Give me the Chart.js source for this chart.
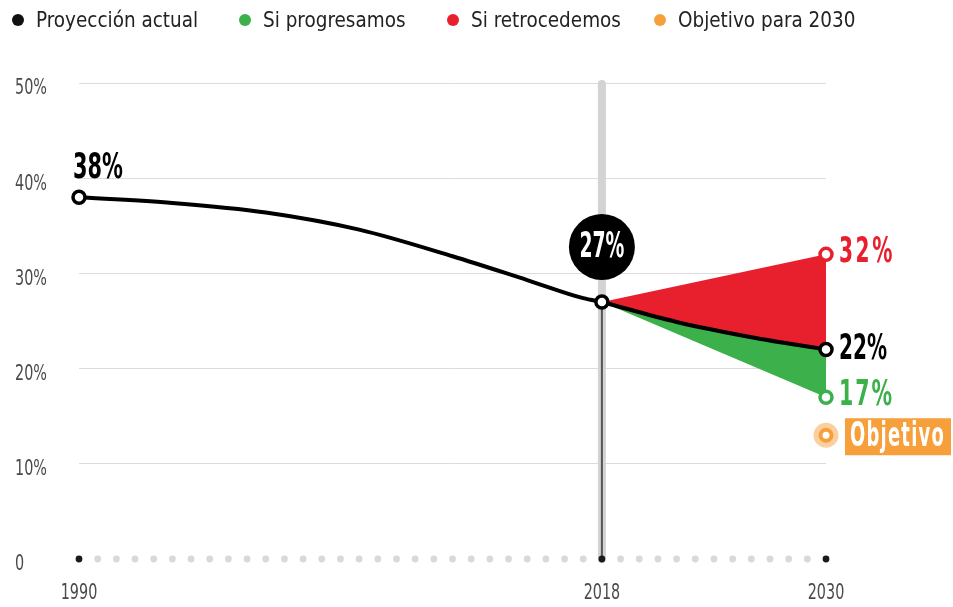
<!DOCTYPE html>
<html>
<head>
<meta charset="utf-8">
<script src="https://cdn.jsdelivr.net/npm/chart.js@4"></script>
<style>
  html, body { margin: 0; padding: 0; background: #fff; }
  #wrap { position: relative; width: 953px; height: 607px; }
  .legend { position: absolute; top: 6px; left: 0; width: 953px; height: 30px;
    font-family: "Liberation Sans Narrow", "DejaVu Sans Condensed", sans-serif; font-size: 22px; color: #222; }
  .legend span { position: absolute; top: 0; white-space: nowrap; line-height: 28px;
    transform: scaleX(0.93); transform-origin: left center; }
  .legend i { position: absolute; top: 8px; width: 12px; height: 12px; border-radius: 50%; }
</style>
</head>
<body>
<div id="wrap">
  <canvas id="chart"></canvas>
  <div class="legend">
    <i style="left:12px;background:#111"></i><span style="left:36px">Proyección actual</span>
    <i style="left:239px;background:#3cb04a"></i><span style="left:263px">Si progresamos</span>
    <i style="left:447px;background:#e8202e"></i><span style="left:471px">Si retrocedemos</span>
    <i style="left:654px;background:#f7a03b"></i><span style="left:678px">Objetivo para 2030</span>
  </div>
</div>
<script>
  // values
  const histYears = [1990, 1995, 2000, 2005, 2010, 2014, 2017, 2018];
  const histValues = [38, 37.4, 36.4, 34.6, 31.8, 29.3, 27.4, 27];

  const projYears = [2018, 2022, 2026, 2030];
  const projValues = [27, 24.9, 23.3, 22];

  const riseYears = [2018, 2030];
  const riseValues = [27, 32];

  const dropYears = [2018, 2030];
  const dropValues = [27, 17];

  const goalYear = 2030;
  const goalValue = 13;

  const markYear = 2018;
  const xTicks = [1990, 2018, 2030];
  const firstYear = 1990;
  const lastYear = 2030;

  const FONT = '"Liberation Sans Narrow", "DejaVu Sans Condensed", sans-serif';
  const RED = '#e8202e';
  const GREEN = '#3cb04a';
  const ORANGE = '#f7a03b';

  const pts = (xs, ys) => xs.map((x, i) => ({ x: x, y: ys[i] }));

  // one small dot for every year along the zero line
  const yearDots = [];
  for (let yr = firstYear; yr <= lastYear; yr++) yearDots.push({ x: yr, y: 0 });

  // condensed text: squeeze horizontally to a given width
  function condText(ctx, text, x, y, size, width, color, align, spacing) {
    ctx.save();
    ctx.font = 'bold ' + size + 'px ' + FONT;
    ctx.letterSpacing = (spacing || 0) + 'px';
    const w = ctx.measureText(text).width;
    const sx = width / w;
    ctx.translate(x, y);
    ctx.scale(sx, 1);
    ctx.fillStyle = color;
    ctx.textBaseline = 'middle';
    ctx.textAlign = align || 'left';
    ctx.fillText(text, 0, 0);
    ctx.restore();
  }

  // thin tick text, squeezed by a fixed factor
  function tickText(ctx, text, x, y, align) {
    ctx.save();
    ctx.font = '21px ' + FONT;
    ctx.translate(x, y);
    ctx.scale(0.76, 1);
    ctx.fillStyle = '#4a4a4a';
    ctx.textBaseline = 'middle';
    ctx.textAlign = align;
    ctx.fillText(text, 0, 0);
    ctx.restore();
  }

  const decor = {
    id: 'decor',
    beforeDatasetsDraw(chart) {
      const { ctx, scales: { x, y } } = chart;

      // tick labels
      y.ticks.forEach(t => tickText(ctx, t.value === 0 ? '0' : t.value + '%', 15, y.getPixelForValue(t.value) + 6, 'left'));
      x.ticks.forEach(t => tickText(ctx, String(t.value), x.getPixelForValue(t.value), 594, 'center'));

      const px = x.getPixelForValue(markYear);
      ctx.save();
      ctx.strokeStyle = '#d3d3d3';
      ctx.lineWidth = 8;
      ctx.lineCap = 'round';
      ctx.beginPath();
      ctx.moveTo(px, y.getPixelForValue(50) + 1);
      ctx.lineTo(px, y.getPixelForValue(0));
      ctx.stroke();
      ctx.strokeStyle = '#555';
      ctx.lineWidth = 2;
      ctx.lineCap = 'butt';
      ctx.beginPath();
      ctx.moveTo(px, y.getPixelForValue(histValues[histValues.length - 1]));
      ctx.lineTo(px, y.getPixelForValue(0));
      ctx.stroke();
      ctx.restore();
    },
    afterDatasetsDraw(chart) {
      const { ctx, scales: { x, y } } = chart;

      // bubble over 2018
      const mx = x.getPixelForValue(markYear);
      const my = y.getPixelForValue(histValues[histValues.length - 1]) - 55;
      ctx.save();
      ctx.fillStyle = '#000';
      ctx.beginPath();
      ctx.arc(mx, my, 33, 0, Math.PI * 2);
      ctx.fill();
      ctx.restore();
      condText(ctx, histValues[histValues.length - 1] + '%', mx, my + 1, 36, 45, '#fff', 'center');

      // start label
      const sx = x.getPixelForValue(histYears[0]);
      const sy = y.getPixelForValue(histValues[0]);
      condText(ctx, histValues[0] + '%', sx - 6, sy - 29, 36, 50, '#000');

      // end labels
      const ex = x.getPixelForValue(lastYear) + 13;
      condText(ctx, riseValues[1] + '%', ex, y.getPixelForValue(riseValues[1]) - 1, 35, 56, RED, 'left', 4);
      condText(ctx, projValues[projValues.length - 1] + '%', ex, y.getPixelForValue(projValues[projValues.length - 1]), 35, 48, '#000');
      condText(ctx, dropValues[1] + '%', ex, y.getPixelForValue(dropValues[1]) - 1, 35, 55, GREEN, 'left', 3);

      // goal marker centre and box
      const gx = x.getPixelForValue(goalYear);
      const gy = y.getPixelForValue(goalValue);
      ctx.save();
      ctx.fillStyle = '#fff';
      ctx.beginPath();
      ctx.arc(gx, gy, 3.5, 0, Math.PI * 2);
      ctx.fill();
      ctx.fillStyle = ORANGE;
      ctx.fillRect(gx + 19, gy - 17, 106, 37);
      ctx.restore();
      condText(ctx, 'Objetivo', gx + 24, gy + 2, 33, 95, '#fff', 'left', 2);
    }
  };

  const config = {
    type: 'line',
    data: {
      datasets: [
        {
          label: 'Proyección actual',
          data: pts(histYears, histValues),
          borderColor: '#000',
          borderWidth: 4,
          cubicInterpolationMode: 'monotone',
          pointRadius: histYears.map((v, i) => (i === 0 || i === histYears.length - 1) ? 6 : 0),
          pointBackgroundColor: '#fff',
          pointBorderColor: '#000',
          pointBorderWidth: 3.5,
          fill: false,
          clip: false,
          order: 0
        },
        {
          label: 'Proyección actual 2030',
          data: pts(projYears, projValues),
          borderColor: '#000',
          borderWidth: 4,
          cubicInterpolationMode: 'monotone',
          pointRadius: projYears.map((v, i) => i === projYears.length - 1 ? 6 : 0),
          pointBackgroundColor: '#fff',
          pointBorderColor: '#000',
          pointBorderWidth: 3.5,
          fill: false,
          clip: false,
          order: 0
        },
        {
          label: 'Si retrocedemos',
          data: pts(riseYears, riseValues),
          borderColor: RED,
          borderWidth: 0,
          backgroundColor: RED,
          fill: 1,
          pointRadius: [0, 6],
          pointBackgroundColor: '#fff',
          pointBorderColor: RED,
          pointBorderWidth: 3.5,
          clip: false,
          order: 2
        },
        {
          label: 'Si progresamos',
          data: pts(dropYears, dropValues),
          borderColor: GREEN,
          borderWidth: 0,
          backgroundColor: GREEN,
          fill: 1,
          pointRadius: [0, 6],
          pointBackgroundColor: '#fff',
          pointBorderColor: GREEN,
          pointBorderWidth: 3.5,
          clip: false,
          order: 2
        },
        {
          label: 'Objetivo para 2030',
          data: [{ x: goalYear, y: goalValue }],
          showLine: false,
          pointRadius: 10,
          pointBackgroundColor: ORANGE,
          pointBorderColor: '#fccf9e',
          pointBorderWidth: 5,
          clip: false,
          order: 0
        },
        {
          label: 'años',
          data: yearDots,
          showLine: false,
          pointRadius: 3.4,
          pointBorderWidth: 0,
          pointBackgroundColor: yearDots.map(d => xTicks.includes(d.x) ? '#1a1a1a' : '#d9d9d9'),
          clip: false,
          order: 3
        }
      ]
    },
    options: {
      responsive: true,
      maintainAspectRatio: false,
      animation: false,
      events: [],
      layout: { padding: { left: 15, right: 127, top: 83, bottom: 0 } },
      plugins: {
        legend: { display: false },
        tooltip: { enabled: false }
      },
      scales: {
        x: {
          type: 'linear',
          min: firstYear,
          max: lastYear,
          afterBuildTicks: axis => { axis.ticks = xTicks.map(v => ({ value: v })); },
          afterFit: scale => { scale.height = 48; },
          grid: { display: false, drawTicks: false },
          border: { display: false },
          ticks: { display: false }
        },
        y: {
          min: 0,
          max: 50,
          afterFit: scale => { scale.width = 64; },
          grid: {
            drawTicks: false,
            color: c => c.tick && c.tick.value === 0 ? 'rgba(0,0,0,0)' : '#dcdcdc',
            lineWidth: 1
          },
          border: { display: false },
          ticks: { display: false, stepSize: 10 }
        }
      }
    },
    plugins: [decor]
  };

  var myChart = new Chart(document.getElementById('chart'), config);
</script>
</body>
</html>
